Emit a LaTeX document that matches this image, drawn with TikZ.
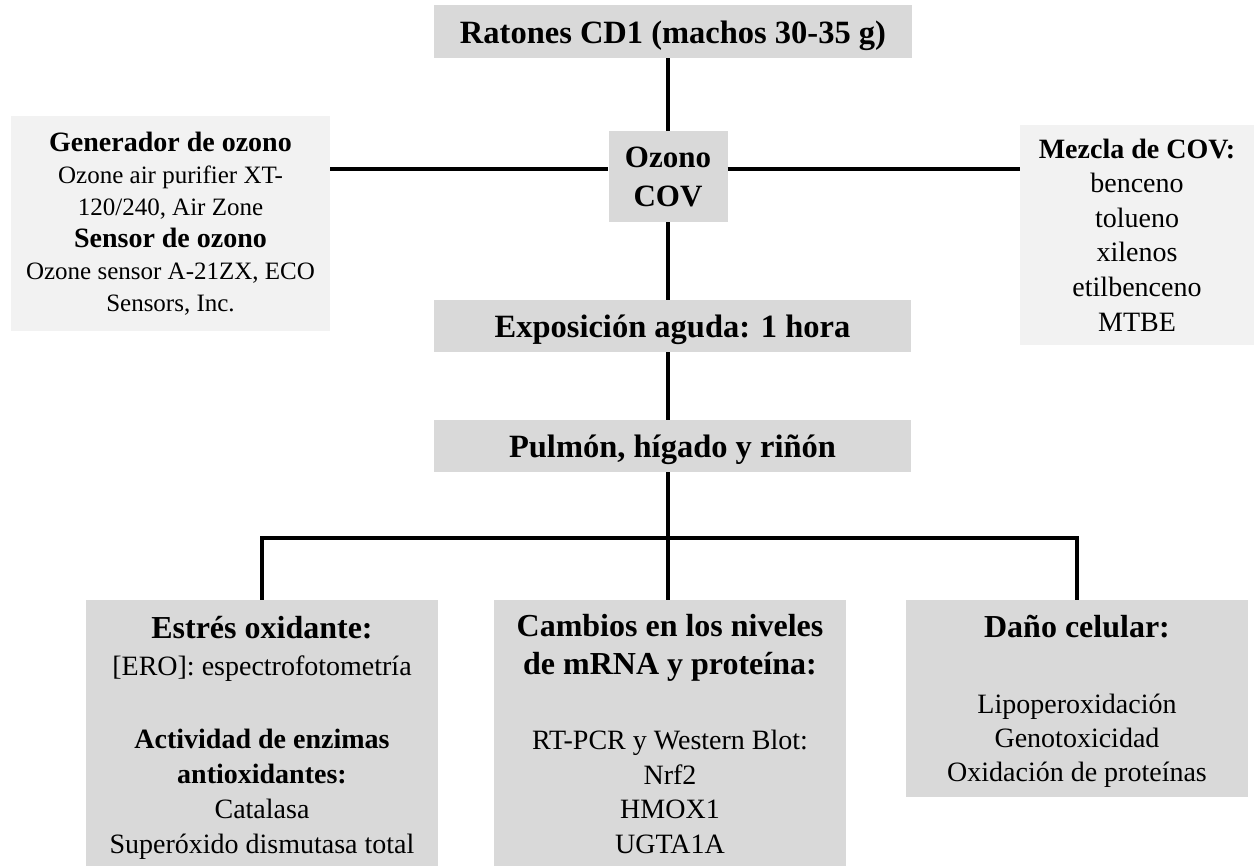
\documentclass[tikz,border=0pt]{standalone}
\usepackage{fontspec}
\setmainfont{Liberation Serif}
\definecolor{boxdark}{HTML}{D9D9D9}
\definecolor{boxlight}{HTML}{F2F2F2}
\newcommand{\fsz}[2]{\fontsize{#1}{#2}\selectfont}

\begin{document}
\begin{tikzpicture}[x=1pt, y=-1pt,
  darkbox/.style={fill=boxdark, inner sep=0pt, align=center},
  lightbox/.style={fill=boxlight, inner sep=0pt, align=center},
  titlebox/.style={darkbox, minimum width=477pt, minimum height=52pt,
                   text height=24pt, text depth=0pt,
                   font=\fsz{32.5}{38}\bfseries},
  link/.style={line width=3.5pt, line cap=butt, line join=miter}]
\useasboundingbox (0,0) rectangle (1254,866);

% central column
\node[titlebox, minimum width=478pt, minimum height=53pt] (top) at (673,31.5)
  {Ratones CD1 (machos 30-35 g)};
\node[darkbox, minimum width=119pt, minimum height=91pt,
      font=\fsz{31}{39}\bfseries] (oz) at (668,176.5)
  {Ozono\\COV};
\node[titlebox] (exp) at (672.5,326) {Exposición aguda: 1 hora};
\node[titlebox] (pul) at (672.5,446) {Pulmón, hígado y riñón};

% side boxes
\node[lightbox, minimum width=319pt, minimum height=215pt,
      font=\fsz{25}{32}] (gen) at (170.5,223.5)
  {{\fsz{28}{32}\bfseries Generador de ozono}\\
   Ozone air purifier XT-\\
   120/240, Air Zone\\
   {\fsz{28}{32}\bfseries Sensor de ozono}\\
   Ozone sensor A-21ZX, ECO\\
   Sensors, Inc.};
\node[lightbox, minimum width=234pt, minimum height=220pt,
      font=\fsz{28}{34.6}] (cov) at (1137,235)
  {\textbf{Mezcla de COV:}\\benceno\\tolueno\\xilenos\\etilbenceno\\MTBE};

% result boxes
\node[darkbox, minimum width=352pt, minimum height=266pt,
      font=\fsz{28}{35}] (lb) at (262,733)
  {\rule{0pt}{31pt}{\fsz{32}{35}\bfseries Estrés oxidante:}\\[2pt]
   {[ERO]}: espectrofotometría\\[38pt]
   \textbf{Actividad de enzimas}\\
   \textbf{antioxidantes:}\\
   Catalasa\\
   Superóxido dismutasa total};
\node[darkbox, minimum width=352pt, minimum height=266pt,
      font=\fsz{28}{34.5}] (mb) at (670,733)
  {\rule{0pt}{24pt}{\fsz{32}{34.5}\bfseries Cambios en los niveles}\\[3.5pt]
   {\fsz{32}{34.5}\bfseries de mRNA y proteína:}\\[40.5pt]
   RT-PCR y Western Blot:\\
   Nrf2\\
   HMOX1\\
   UGTA1A};
\node[darkbox, minimum width=342pt, minimum height=197pt,
      font=\fsz{28}{34}] (rb) at (1077,698.5)
  {\rule{0pt}{27pt}{\fsz{32}{34}\bfseries Daño celular:}\\[42pt]
   Lipoperoxidación\\
   Genotoxicidad\\
   Oxidación de proteínas};

% connectors
\coordinate (hz) at (668,169);
\coordinate (bus) at (668,538);
\draw[link] (top.south -| oz.north) -- (oz.north);
\draw[link] (oz.south) -- (oz.south |- exp.north);
\draw[link] (exp.south -| oz.south) -- (pul.north -| oz.south);
\draw[link] (pul.south -| oz.south) -- (mb.north -| oz.south);
\draw[link] (gen.east |- hz) -- (oz.west |- hz);
\draw[link] (oz.east |- hz) -- (cov.west |- hz);
\draw[link] (lb.north) |- (bus) -| (rb.north);
\end{tikzpicture}
\end{document}
